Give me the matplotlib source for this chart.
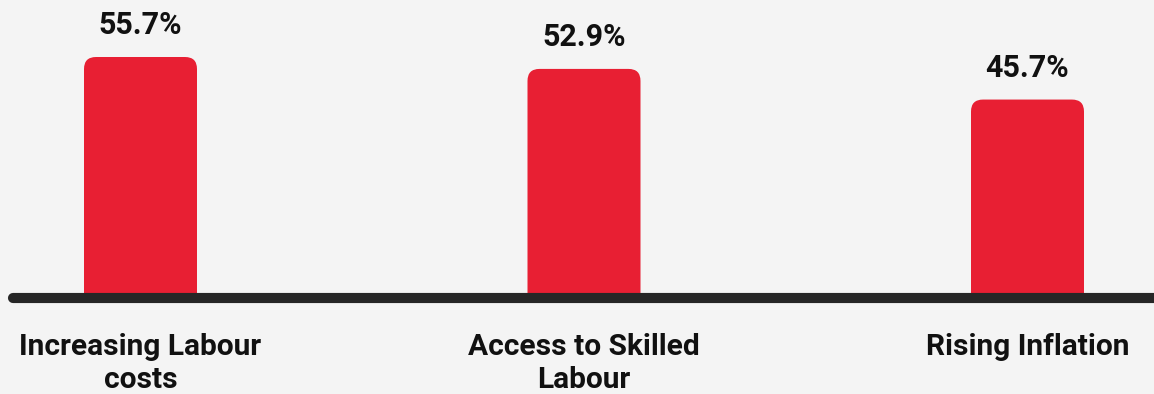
import matplotlib
matplotlib.use("Agg")
import matplotlib.pyplot as plt
from matplotlib.patches import FancyBboxPatch
import matplotlib.transforms as mtransforms

categories = ["Increasing Labour\ncosts", "Access to Skilled\nLabour", "Rising Inflation"]
values = [55.7, 52.9, 45.7]
value_labels = ["55.7%", "52.9%", "45.7%"]

BG = "#f4f4f4"
RED = "#e81f33"
DARK = "#262626"
TXT = "#111111"

plt.rcParams['font.family'] = ['Roboto', 'DejaVu Sans']

W, H = 1154, 394
fig = plt.figure(figsize=(W / 100, H / 100), dpi=100, facecolor=BG)
# axes spans the full width, bottom at the baseline (pixel 294 from top)
ax = fig.add_axes([0, (H - 294) / H, 1, 294 / H])
ax.set_facecolor(BG)

px_x = 443.5            # pixels per category step
px_y = 237 / values[0]  # pixels per percent
ax.set_xlim(-140.5 / px_x, (W - 140.5) / px_x)
ax.set_ylim(0, 294 / px_y)
ax.axis("off")

bar_w = 113 / px_x
radius_px = 12
rx = radius_px / px_x
ry = radius_px / px_y

xs = list(range(len(values)))
for x, v, lab in zip(xs, values, value_labels):
    # extend below zero so only the top corners show (clipped at the axis)
    p = FancyBboxPatch((x - bar_w / 2, -10), bar_w, v + 10,
                       boxstyle=f"round,pad=0,rounding_size={rx}",
                       mutation_aspect=ry / rx,
                       facecolor=RED, edgecolor="none", zorder=2)
    ax.add_patch(p)
    ax.annotate(lab, (x, v), xytext=(0, 16.5), textcoords="offset points",
                ha="center", va="baseline", fontsize=22, fontweight="bold",
                color=TXT, annotation_clip=False)

# baseline with rounded left end
trans = mtransforms.blended_transform_factory(ax.transAxes, ax.transData)
ax.plot([13 / W, 1.02], [-4 / px_y, -4 / px_y], transform=trans, color=DARK,
        lw=7.3, solid_capstyle="round", clip_on=False, zorder=3)

for x, c in zip(xs, categories):
    ax.annotate(c, (x, 0), xytext=(0, -28), textcoords="offset points",
                ha="center", va="top", fontsize=21.5, fontweight="bold",
                color=TXT, linespacing=1.22, annotation_clip=False)

fig.savefig("out.png", dpi=100, facecolor=BG)
